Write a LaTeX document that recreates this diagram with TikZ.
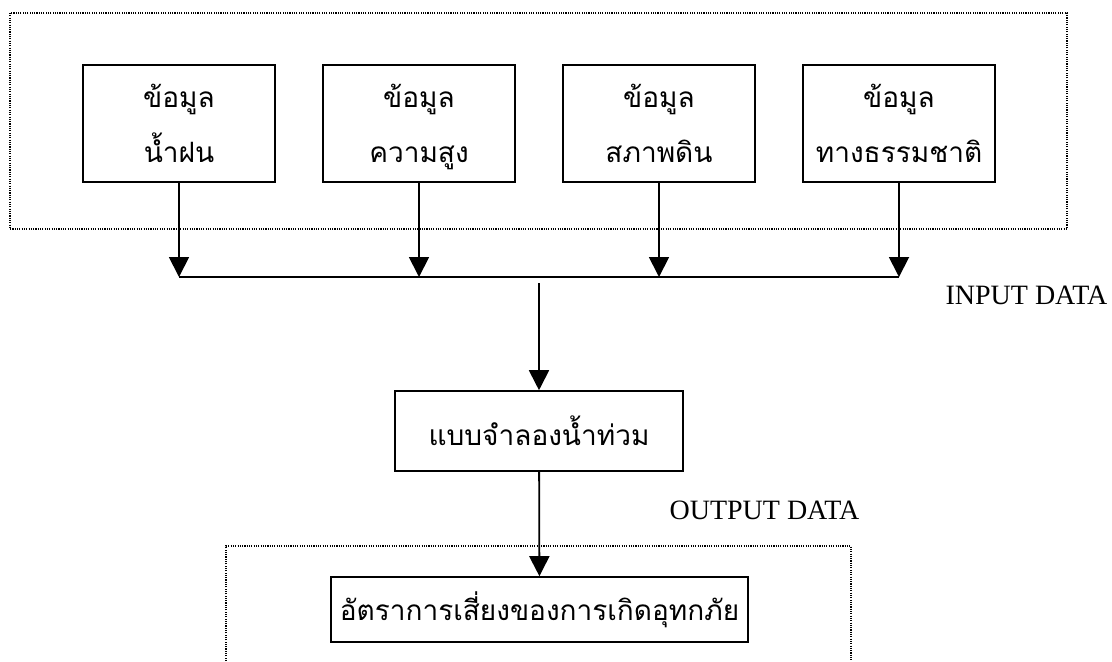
\documentclass[tikz,border=0pt]{standalone}
\usepackage{fontspec}
\setmainfont{Liberation Serif}
\newfontfamily\thaifont[Script=Thai]{Loma}
\usetikzlibrary{arrows.meta}

\begin{document}
\begin{tikzpicture}[x=0.5pt,y=-0.5pt,
    box/.style={draw,line width=0.8pt,align=center,inner sep=0pt,
      font=\thaifont\fontsize{14}{27.5}\selectfont},
    frame/.style={line width=0.6pt,dash pattern=on 0.55pt off 0.6pt},
    link/.style={line width=0.9pt,-{Triangle[width=10pt,length=10pt]}}]
    \useasboundingbox (0,0) rectangle (1112,661);
    % input data group
    \draw[frame] (10,13) rectangle (1067,229);
    \node[box,minimum width=96pt,minimum height=58.5pt] (rain) at (179,123.5) {\strut ข้อมูล\\\strut น้ำฝน};
    \node[box,minimum width=96pt,minimum height=58.5pt] (elev) at (419,123.5) {\strut ข้อมูล\\\strut ความสูง};
    \node[box,minimum width=96pt,minimum height=58.5pt] (soil) at (659,123.5) {\strut ข้อมูล\\\strut สภาพดิน};
    \node[box,minimum width=96pt,minimum height=58.5pt] (nature) at (899,123.5) {\strut ข้อมูล\\\strut ทางธรรมชาติ};
    \node[font=\fontsize{14}{16}\selectfont] (indata) at (1026.5,295) {INPUT DATA};
    % collecting line
    \coordinate (bus) at (0,277);
    \draw[link] (rain) -- (rain.south |- bus);
    \draw[link] (elev) -- (elev.south |- bus);
    \draw[link] (soil) -- (soil.south |- bus);
    \draw[link] (nature) -- (nature.south |- bus);
    \draw[line width=0.9pt] (rain.south |- bus) -- (nature.south |- bus);
    % model
    \node[box,minimum width=144pt,minimum height=40pt] (model) at (539,431) {แบบจำลองน้ำท่วม};
    \coordinate (split) at (539,283);
    \draw[link] (split) -- (model);
    % output data group
    \node[font=\fontsize{14}{16}\selectfont] (outdata) at (764.5,510) {OUTPUT DATA};
    \draw[frame] (226,661) -- (226,546) -- (851,546) -- (851,661);
    \node[box,minimum width=208.5pt,minimum height=32.5pt] (risk) at (539.5,609.5) {อัตราการเสี่ยงของการเกิดอุทกภัย};
    \draw[link] (model) -- (risk);
\end{tikzpicture}
\end{document}
